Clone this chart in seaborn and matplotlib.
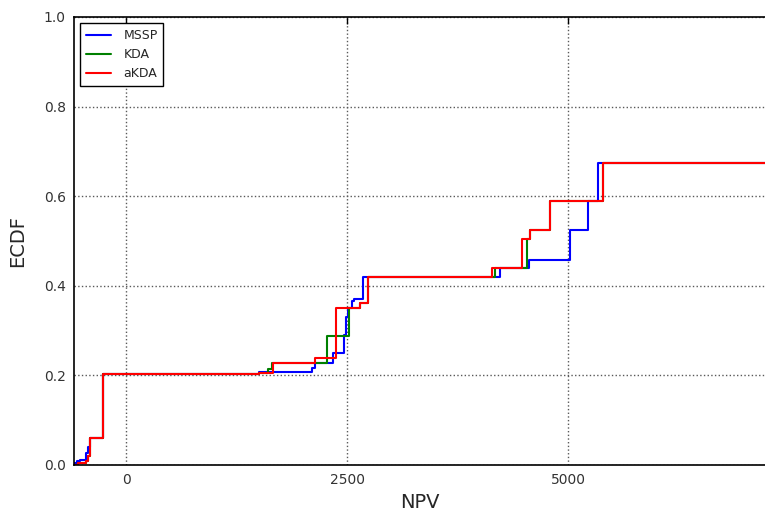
import matplotlib
matplotlib.use("Agg")
import matplotlib.pyplot as plt
import seaborn as sns
import pandas as pd

# step points (NPV, ECDF), drawn as steps-post
mssp_x = [-600, -560, -520, -450, -430, -405, -260, 1500, 2100, 2140, 2340,
          2470, 2490, 2510, 2560, 2580, 2680, 4230, 4560, 5020, 5230, 5340, 7400]
mssp_y = [0.004, 0.008, 0.012, 0.027, 0.040, 0.060, 0.203, 0.207, 0.216, 0.228, 0.250,
          0.290, 0.330, 0.350, 0.365, 0.370, 0.420, 0.440, 0.457, 0.524, 0.589, 0.673, 0.673]

kda_x = [-600, -550, -450, -430, -405, -260, 1500, 1610, 1650, 2270, 2520,
         2650, 2740, 4170, 4540, 4570, 4800, 5400, 7400]
kda_y = [0.000, 0.004, 0.010, 0.020, 0.060, 0.203, 0.205, 0.215, 0.228, 0.288, 0.350,
         0.362, 0.420, 0.440, 0.504, 0.524, 0.589, 0.673, 0.673]

akda_x = [-600, -540, -450, -430, -405, -260, 1500, 1660, 2140, 2370,
          2650, 2740, 4140, 4480, 4570, 4800, 5400, 7400]
akda_y = [0.000, 0.004, 0.008, 0.020, 0.060, 0.203, 0.205, 0.228, 0.239, 0.350,
          0.362, 0.420, 0.440, 0.504, 0.524, 0.589, 0.673, 0.673]

series = [("MSSP", mssp_x, mssp_y, "#0000ff"),
          ("KDA", kda_x, kda_y, "#008000"),
          ("aKDA", akda_x, akda_y, "#ff0000")]

x_ticks = [0, 2500, 5000]
y_ticks = [0.0, 0.2, 0.4, 0.6, 0.8, 1.0]

sns.set_style("white")
plt.rcParams['font.family'] = ['DejaVu Sans']

fig = plt.figure(figsize=(7.65, 5.15), dpi=100)
ax = fig.add_axes([74 / 765, 50 / 515, 692 / 765, 448 / 515])

for nome, xs, ys, cor in series:
    df = pd.DataFrame({'NPV': xs, 'ECDF': ys})
    sns.lineplot(data=df, x='NPV', y='ECDF', color=cor, label=nome,
                 drawstyle='steps-post', estimator=None, sort=False,
                 linewidth=1.5, ax=ax)

ax.set_xlim(-590, 7240)
ax.set_ylim(0, 1.0)
ax.set_xticks(x_ticks)
ax.set_yticks(y_ticks)
ax.set_yticklabels([f"{v:.1f}" for v in y_ticks])

ax.grid(True, color='0.35', linestyle=':', linewidth=1)
ax.set_axisbelow(True)

for s in ax.spines.values():
    s.set_color('black')
    s.set_linewidth(1.2)

ax.tick_params(direction='in', top=True, right=False, length=5, width=1,
               labelsize=10, colors='black', pad=6)
ax.tick_params(axis='both', labelcolor='#333333')

ax.set_xlabel('NPV', fontsize=14, labelpad=4)
ax.set_ylabel('ECDF', fontsize=14, labelpad=12)

leg = ax.legend(loc='upper left', fontsize=9, frameon=True, fancybox=False,
                edgecolor='black', framealpha=1, handlelength=2.0,
                handletextpad=1.0, borderpad=0.45, borderaxespad=0.5)
leg.get_frame().set_linewidth(1)

fig.savefig('out.png', dpi=100, facecolor='white')
plt.close(fig)
